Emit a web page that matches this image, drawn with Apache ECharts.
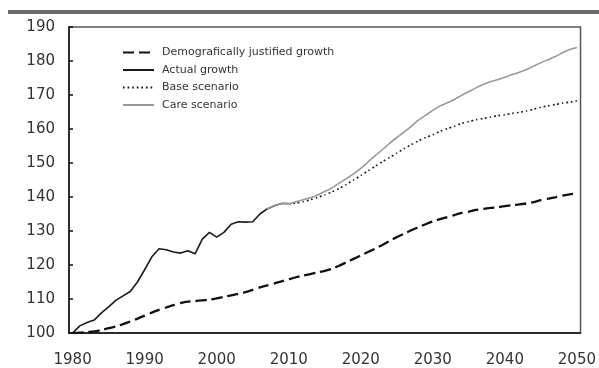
<!DOCTYPE html>
<html>
<head>
<meta charset="utf-8">
<script src="https://cdn.jsdelivr.net/npm/echarts@6/dist/echarts.min.js"></script>
<style>
  html, body { margin: 0; padding: 0; background: #fff; }
  #chart { width: 599px; height: 368px; }
</style>
</head>
<body>
<div id="chart"></div>
<script>
// Years 1980–2050, one value per year (null where a series has no value)
const years = [];
for (let y = 1980; y <= 2050; y++) years.push(String(y));

// Demografically justified growth, 1980–2050
const demographic = [
  100.0, 100.1, 100.3, 100.5, 100.9, 101.4, 101.9, 102.6, 103.4, 104.2,
  105.1, 106.0, 106.8, 107.5, 108.2, 108.8, 109.2, 109.4, 109.6, 109.8,
  110.2, 110.6, 111.1, 111.5, 112.0, 112.7, 113.4, 114.0, 114.6, 115.2,
  115.8, 116.4, 116.9, 117.3, 117.8, 118.3, 118.9, 119.8, 120.8, 121.8,
  122.8, 123.8, 124.8, 125.9, 127.1, 128.2, 129.2, 130.2, 131.1, 132.0,
  132.8, 133.5, 134.1, 134.7, 135.3, 135.7, 136.2, 136.5, 136.8, 137.0,
  137.3, 137.6, 137.8, 138.1, 138.5, 139.1, 139.5, 139.9, 140.4, 140.8,
  141.0
];

// Actual growth, 1980–2010
const actual = [
  100.0, 102.1, 103.1, 103.8, 105.9, 107.7, 109.6, 110.9, 112.2, 115.0,
  118.6, 122.4, 124.8, 124.5, 123.8, 123.5, 124.2, 123.3, 127.6, 129.6,
  128.2, 129.6, 132.0, 132.7, 132.6, 132.7, 135.0, 136.5, 137.4, 138.1,
  138.1
];

// Base scenario, 2010–2050
const baseScenario = [
  138.0, 138.2, 138.6, 139.2, 139.9, 140.6, 141.5, 142.5, 143.7, 145.0,
  146.3, 147.7, 149.0, 150.4, 151.6, 152.9, 154.2, 155.4, 156.5, 157.5,
  158.3, 159.3, 160.1, 160.8, 161.6, 162.2, 162.7, 163.1, 163.5, 163.9,
  164.2, 164.6, 164.9, 165.3, 165.8, 166.4, 166.8, 167.2, 167.6, 167.9,
  168.3
];

// Care scenario, 2007–2050
const careScenario = [
  136.5, 137.4, 138.1,
  138.0, 138.6, 139.2, 139.8, 140.6, 141.6, 142.7, 144.1, 145.4, 146.8,
  148.4, 150.3, 152.2, 153.9, 155.8, 157.5, 159.1, 160.8, 162.6, 164.0,
  165.5, 166.8, 167.7, 168.7, 169.9, 171.0, 172.1, 173.1, 173.9, 174.5,
  175.2, 176.0, 176.7, 177.5, 178.5, 179.5, 180.4, 181.3, 182.4, 183.4,
  184.0
];

// Y axis ticks
const yTicks = { min: 100, max: 190, step: 10 };

// Place a partial series on the full year axis
function onYears(values, startYear) {
  const out = years.map(() => null);
  const offset = startYear - 1980;
  values.forEach((v, i) => { out[offset + i] = v; });
  return out;
}

const chart = echarts.init(document.getElementById('chart'), null, { renderer: 'canvas' });

const axisFont = { fontFamily: 'DejaVu Sans', fontSize: 15, color: '#333' };

chart.setOption({
  animation: false,
  backgroundColor: '#fff',
  graphic: [{
    type: 'rect',
    shape: { x: 8, y: 10, width: 591, height: 4 },
    style: { fill: '#6b6b6b' },
    silent: true
  }],
  grid: {
    left: 69, right: 18, top: 27, bottom: 34,
    show: true,
    borderColor: '#555',
    borderWidth: 1.5,
    containLabel: false
  },
  legend: {
    orient: 'vertical',
    left: 122, top: 47,
    padding: 0,
    itemWidth: 31, itemHeight: 12, itemGap: 6.5,
    itemStyle: { opacity: 0 },
    textStyle: { fontFamily: 'DejaVu Sans', fontSize: 11, color: '#333', padding: [0, 0, 0, 3] },
    data: ['Demografically justified growth', 'Actual growth', 'Base scenario', 'Care scenario']
  },
  xAxis: {
    type: 'category',
    data: years,
    boundaryGap: true,
    axisLine: { lineStyle: { color: '#111', width: 1.5 } },
    axisTick: { show: false },
    axisLabel: { ...axisFont, interval: 9, margin: 20 },
    splitLine: { show: false }
  },
  yAxis: {
    type: 'value',
    min: yTicks.min, max: yTicks.max, interval: yTicks.step,
    axisLine: { show: true, lineStyle: { color: '#111', width: 1.5 } },
    axisTick: { show: true, inside: true, length: 4, lineStyle: { color: '#111', width: 1.5 } },
    axisLabel: { ...axisFont, margin: 14 },
    splitLine: { show: false }
  },
  series: [
    {
      name: 'Demografically justified growth',
      type: 'line',
      data: demographic,
      symbol: 'none',
      smooth: 0.2,
      lineStyle: { color: '#111', width: 2.3, type: [11, 5] },
      itemStyle: { color: '#111' },
      z: 2
    },
    {
      name: 'Actual growth',
      type: 'line',
      data: onYears(actual, 1980),
      symbol: 'none',
      lineStyle: { color: '#1a1a1a', width: 1.6 },
      itemStyle: { color: '#1a1a1a' },
      z: 3
    },
    {
      name: 'Base scenario',
      type: 'line',
      data: onYears(baseScenario, 2010),
      symbol: 'none',
      smooth: 0.2,
      lineStyle: { color: '#111', width: 1.6, type: [1.6, 3] },
      itemStyle: { color: '#111' },
      z: 4
    },
    {
      name: 'Care scenario',
      type: 'line',
      data: onYears(careScenario, 2007),
      symbol: 'none',
      smooth: 0.2,
      lineStyle: { color: '#999', width: 1.6 },
      itemStyle: { color: '#999' },
      z: 5
    }
  ]
});
</script>
</body>
</html>
